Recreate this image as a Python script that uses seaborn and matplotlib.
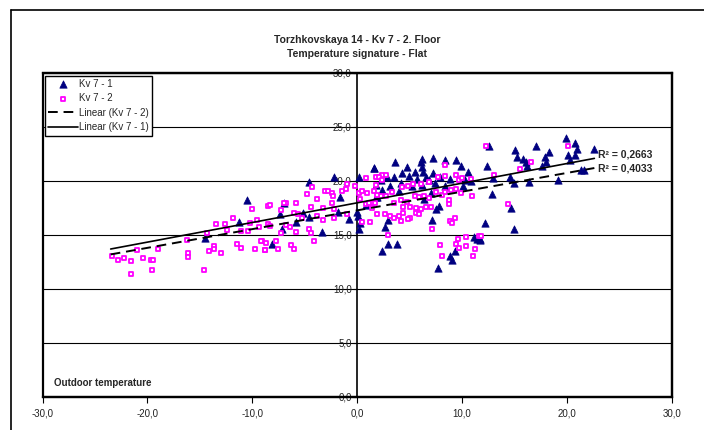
import numpy as np
import pandas as pd
import matplotlib
matplotlib.use("Agg")
import matplotlib.pyplot as plt
from matplotlib.lines import Line2D
import seaborn as sns

# ---------------- data ----------------
kv71_x = [-10.5, -11.3, -14.5,
          -4.6, -2.2, 0.2, 1.6, -7.0, -7.4, -5.2, -5.8, -4.6, -7.2, -8.1, -3.4, -1.8, -1.6,
          -0.8, 0.0, 0.1, 0.3, 0.2, 0.8, 1.8,
          3.6, 4.7, 6.1, 6.2, 6.2, 7.2, 8.4, 9.4, 9.9, 1.6, 4.3, 4.9, 5.5, 6.3, 7.2, 3.5, 2.8,
          2.3, 5.7, 6.6, 6.8, 7.9, 8.8, 10.6, 10.3, 10.1, 10.8, 1.8, 3.1, 4.2, 5.2, 6.2, 7.4,
          8.4, 2.4, 1.9, 4.0, 7.0, 6.4, 7.8, 7.5, 2.9, 7.1, 2.6, 2.9, 3.8, 2.4, 7.7, 8.8, 9.0,
          9.3, 11.1, 11.4, 11.7,
          12.6, 15.0, 17.0, 18.3, 19.9, 20.8, 20.9, 22.6, 15.2, 15.8, 16.1, 17.9, 18.0, 20.1,
          20.8, 20.3, 12.4, 16.2, 17.6, 14.6, 12.9, 21.3, 19.1, 16.4, 14.9, 12.8, 14.7, 12.2,
          14.9, 11.7, 21.6]
kv71_y = [18.2, 16.2, 14.7,
          19.9, 20.4, 20.4, 21.2, 18.0, 16.9, 17.0, 16.2, 16.7, 15.6, 14.2, 15.3, 17.1, 18.5,
          16.5, 17.1, 16.8, 16.1, 15.6, 17.8, 18.5,
          21.8, 21.3, 21.8, 22.0, 21.3, 22.1, 21.9, 21.9, 21.4, 21.2, 20.7, 20.5, 20.8, 20.8,
          20.7, 20.4, 20.4, 20.1, 20.2, 20.4, 20.1, 20.4, 20.2, 20.8, 20.1, 19.5, 20.0, 19.6,
          19.5, 19.8, 19.5, 19.6, 19.8, 19.5, 19.2, 18.5, 19.1, 18.9, 18.3, 17.7, 17.4, 16.4,
          16.4, 15.7, 14.2, 14.2, 13.5, 11.9, 13.1, 12.7, 13.5, 14.8, 14.6, 14.5,
          23.2, 22.9, 23.2, 22.7, 24.0, 23.5, 23.0, 23.0, 22.2, 22.0, 21.8, 22.2, 21.8, 22.4,
          22.4, 21.9, 21.4, 21.4, 21.4, 20.4, 20.3, 21.0, 20.1, 19.9, 19.8, 18.8, 17.5, 16.1,
          15.6, 14.6, 21.0]

kv72_x = [-23.4, -22.8, -22.2, -21.6, -21.6, -20.4, -19.7, -19.5, -19.6, -21.0, -19.0,
          -16.2, -16.1, -16.1, -14.6, -14.1, -13.7, -13.7, -13.0, -14.3, -13.5, -12.6, -12.4,
          -11.8, -11.5, -11.1, -11.1, -10.2, -10.0, -10.4, -9.6, -9.4, -9.7, -9.1, -8.8, -8.5,
          -8.5,
          -4.3, -4.8, -3.1, -2.8, -2.4, -2.3, -1.5, -1.1, -1.0, -0.2, 0.8, -5.8, -6.8, -8.3,
          -4.4, -3.8, -3.3, -2.4, -2.2, -6.0, -5.6, -5.3, -3.8, -3.3, -2.2, -1.0, -6.8, -6.4,
          -5.8, -4.6, -4.4, -7.3, -8.3, -9.2, -8.7, -7.7, -7.6, -8.8, -6.3, -6.0, -4.1, 0.5,
          1.2, 0.2, 0.5, 0.9, 0.3, 0.8, 1.4, 1.6, 1.8, 1.4, -7.3, -7.0, 2.4, 2.7,
          1.8, 2.1, 2.4, 2.3, 1.9, 2.7, 1.1, 1.7, 3.3, 3.5, 4.2, 4.7, 4.3, 4.8, 5.3, 6.1, 6.8,
          7.7, 8.4, 8.4, 9.4, 9.7, 10.0, 10.8, 5.5, 5.9, 6.4, 6.8, 7.5, 8.1, 8.4, 8.9, 9.4,
          9.9, 8.7, 8.7, 10.9, 4.4, 5.0, 5.6, 6.1, 6.6, 7.0, 1.9, 2.6, 3.1, 3.5, 4.0, 4.4, 5.0,
          5.6, 5.9, 4.2, 4.8, 9.3, 8.8, 9.0, 7.1, 2.9, 9.6, 7.9, 9.4, 9.7, 10.4, 11.2, 8.1,
          11.0, 10.4,
          12.3, 20.1, 16.6, 15.5, 13.0, 14.4, 11.6, 11.8]
kv72_y = [13.1, 12.7, 12.9, 12.6, 11.4, 12.9, 12.7, 12.7, 11.8, 13.6, 13.7,
          14.5, 13.3, 13.0, 11.8, 13.5, 14.0, 13.7, 13.3, 15.2, 16.0, 16.0, 15.5,
          16.6, 14.2, 13.8, 15.4, 16.1, 17.4, 15.4, 16.4, 15.7, 13.7, 14.4, 13.6, 16.0,
          17.7,
          19.4, 18.8, 19.1, 19.1, 18.9, 18.6, 19.1, 19.3, 19.7, 19.5, 20.3, 18.0, 18.0, 17.8,
          17.6, 18.3, 17.5, 18.0, 17.4, 17.0, 16.9, 16.6, 16.8, 16.4, 16.6, 16.9, 15.9, 15.7,
          15.3, 15.6, 15.2, 15.2, 15.8, 14.4, 14.3, 14.4, 13.7, 13.6, 14.1, 13.7, 14.4, 16.2,
          16.2, 18.9, 19.1, 18.9, 18.3, 17.9, 18.0, 19.1, 19.6, 17.5, 17.3, 18.0, 20.6, 20.6,
          20.4, 20.4, 20.1, 18.6, 18.7, 18.6, 18.0, 18.0, 19.0, 18.0, 18.2, 18.1, 19.4, 19.5,
          19.7, 19.7, 19.9, 20.4, 20.5, 21.5, 20.6, 20.1, 20.3, 20.2, 18.6, 18.5, 18.6, 18.4,
          19.0, 18.7, 19.0, 19.2, 19.3, 18.9, 18.2, 17.9, 18.6, 17.6, 17.6, 17.5, 17.4, 17.6,
          17.6, 16.9, 16.9, 16.8, 16.6, 16.8, 17.0, 16.6, 17.0, 16.9, 16.3, 16.5, 16.6, 16.3,
          16.1, 15.6, 15.0, 14.6, 14.1, 14.2, 13.8, 14.0, 13.7, 13.1, 13.1, 14.8,
          23.2, 23.2, 21.8, 21.1, 20.6, 17.9, 14.9, 14.9]

# linear trend lines
trend_x = [-23.5, 22.6]
kv71_slope, kv71_intercept = 0.182, 17.98
kv72_slope, kv72_intercept = 0.1735, 17.28
r2_texts = ["R² = 0,2663", "R² = 0,4033"]

x_ticks = [-30, -20, -10, 0, 10, 20, 30]
x_ticklabels = ["-30,0", "-20,0", "-10,0", "0,0", "10,0", "20,0", "30,0"]
y_ticks = [0, 5, 10, 15, 20, 25, 30]
y_ticklabels = ["0,0", "5,0", "10,0", "15,0", "20,0", "25,0", "30,0"]

title_lines = ["Torzhkovskaya 14 - Kv 7 - 2. Floor", "Temperature signature - Flat"]
x_note = "Outdoor temperature"

# ---------------- drawing ----------------
sns.set_style("white")
plt.rcParams["font.family"] = ["Liberation Sans", "DejaVu Sans"]

W, H = 704, 430
fig = plt.figure(figsize=(W / 100, H / 100), dpi=100)
ax = fig.add_axes([42.5 / W, 1 - 397 / H, (672 - 42.5) / W, (397 - 73) / H])

df1 = pd.DataFrame({"x": kv71_x, "y": kv71_y})
df2 = pd.DataFrame({"x": kv72_x, "y": kv72_y})

sns.scatterplot(data=df1, x="x", y="y", marker="^", color="#000080",
                edgecolor="#000080", linewidth=0.5, s=28, label="Kv 7 - 1",
                ax=ax, zorder=3)
sns.scatterplot(data=df2, x="x", y="y", marker="s", color="white",
                edgecolor="#FF00FF", linewidth=1.3, s=9, label="Kv 7 - 2",
                ax=ax, zorder=4)

tx = np.array(trend_x)
tdf = pd.DataFrame({"x": tx,
                    "y1": kv71_slope * tx + kv71_intercept,
                    "y2": kv72_slope * tx + kv72_intercept})
sns.lineplot(data=tdf, x="x", y="y2", color="black", linewidth=1.4,
             linestyle=(0, (5, 3)), label="Linear (Kv 7 - 2)", ax=ax, zorder=5)
sns.lineplot(data=tdf, x="x", y="y1", color="black", linewidth=1.2,
             label="Linear (Kv 7 - 1)", ax=ax, zorder=5)

ax.set_xlim(-30, 30)
ax.set_ylim(0, 30)
ax.set_xticks(x_ticks)
ax.set_xticklabels(x_ticklabels)
ax.set_yticks(y_ticks)
ax.set_yticklabels(y_ticklabels)
ax.set_xlabel("")
ax.set_ylabel("")

ax.spines["left"].set_position(("data", 0))
for s in ax.spines.values():
    s.set_color("black")
    s.set_linewidth(1.2)
ax.spines["top"].set_linewidth(1.6)
ax.spines["right"].set_linewidth(1.6)
ax.spines["bottom"].set_linewidth(1.6)
ax.add_patch(plt.Rectangle((0, 0), 1, 1, transform=ax.transAxes, fill=False,
                           lw=1.6, ec="black", clip_on=False, zorder=6))

ax.yaxis.grid(True, color="black", linewidth=0.8)
ax.set_axisbelow(True)
ax.tick_params(axis="y", direction="out", length=3, width=0.8, labelsize=7,
               pad=1, colors="black", left=True)
ax.tick_params(axis="x", direction="out", length=4, width=0.8, labelsize=7,
               pad=4, colors="black", bottom=True)
for lab in ax.get_xticklabels() + ax.get_yticklabels():
    lab.set_color("#222222")

ax.text(-28.9, 1.3, x_note, fontsize=7, fontweight="bold", va="center", ha="left")
ax.text(22.9, kv71_slope * 22.6 + kv71_intercept + 0.4, r2_texts[0], fontsize=7.5,
        fontweight="bold", va="center", ha="left", zorder=7)
ax.text(22.9, kv72_slope * 22.6 + kv72_intercept + 0.0, r2_texts[1], fontsize=7.5,
        fontweight="bold", va="center", ha="left", zorder=7)

handles, labels = ax.get_legend_handles_labels()
order = ["Kv 7 - 1", "Kv 7 - 2", "Linear (Kv 7 - 2)", "Linear (Kv 7 - 1)"]
hmap = dict(zip(labels, handles))
leg = ax.legend([hmap[k] for k in order], order, loc="upper left",
                bbox_to_anchor=(0.004, 0.992), fontsize=7, frameon=True,
                fancybox=False, edgecolor="black", framealpha=1,
                handlelength=3.0, handletextpad=0.1, labelspacing=0.45,
                borderpad=0.35, borderaxespad=0)
leg.get_frame().set_linewidth(1.0)
leg.set_zorder(8)

fig.text(357 / W, 1 - 40 / H, title_lines[0], fontsize=7.5, fontweight="bold",
         ha="center", va="center")
fig.text(357 / W, 1 - 54 / H, title_lines[1], fontsize=7.5, fontweight="bold",
         ha="center", va="center")

fig.add_artist(Line2D([11 / W, 11 / W], [0, 1 - 10 / H], transform=fig.transFigure,
                      color="black", lw=1.2))
fig.add_artist(Line2D([11 / W, 1], [1 - 10 / H, 1 - 10 / H], transform=fig.transFigure,
                      color="black", lw=1.2))

fig.savefig("out.png", dpi=100)
